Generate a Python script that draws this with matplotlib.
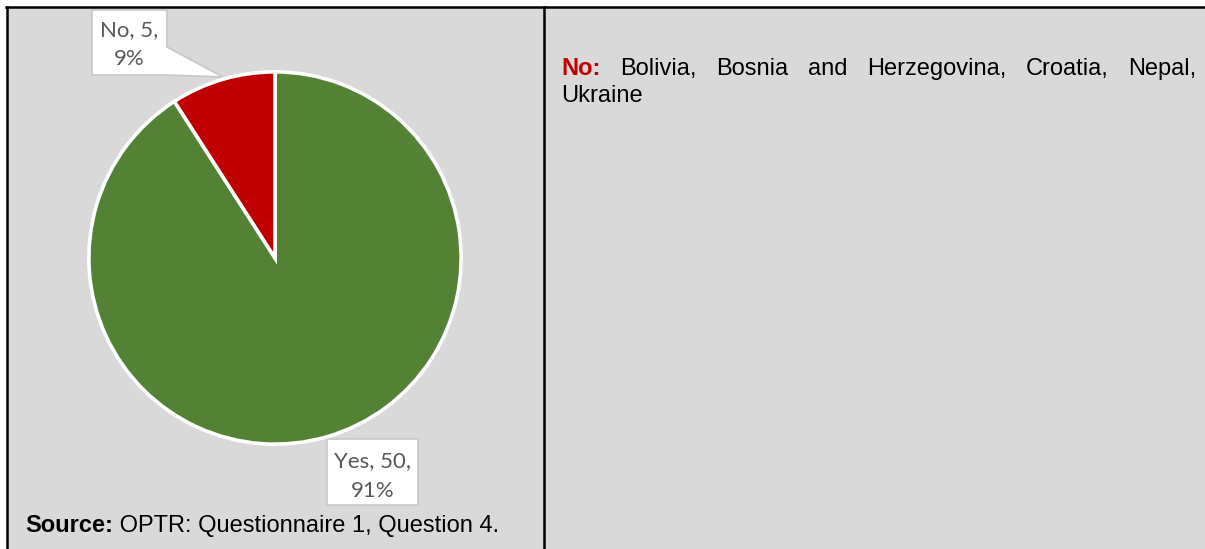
import matplotlib
matplotlib.use('Agg')
import matplotlib.pyplot as plt
from matplotlib.patches import Polygon, Rectangle

W, H = 1205, 549

categories = ["Yes", "No"]
counts = [50, 5]
colors = ["#548235", "#C00000"]

no_countries = ["Bolivia", "Bosnia and Herzegovina", "Croatia", "Nepal", "Ukraine"]
source_label = "Source:"
source_text = " OPTR: Questionnaire 1, Question 4."

GREY = "#D9D9D9"
LABEL_FONT = "Lato"
LABEL_SIZE = 16
BODY_FONT = "Liberation Sans"
BODY_SIZE = 17

fig = plt.figure(figsize=(W / 100, H / 100), dpi=100)
fig.patch.set_facecolor("white")

# full-figure overlay in pixel coordinates (y grows downward)
ov = fig.add_axes([0, 0, 1, 1])
ov.set_xlim(0, W)
ov.set_ylim(H, 0)
ov.axis("off")

ov.add_patch(Rectangle((8, 8), W - 8, H - 8, facecolor=GREY, edgecolor="none", zorder=0))
ov.plot([6, W], [7, 7], color="black", lw=1.8, zorder=5)
ov.plot([7, 7], [7, H], color="black", lw=1.8, zorder=5)
ov.plot([544, 544], [7, H], color="black", lw=1.8, zorder=5)

# pie
cx, cy, r = 275, 258, 188
pax = fig.add_axes([(cx - r) / W, (H - cy - r) / H, 2 * r / W, 2 * r / H])
wedges, _ = pax.pie(counts, colors=colors, startangle=90, counterclock=False,
                    wedgeprops=dict(edgecolor="white", linewidth=2.6))
pax.set_xlim(-1.01, 1.01)
pax.set_ylim(-1.01, 1.01)
pax.set_aspect("auto")
pax.axis("off")
for w in wedges:
    w.set_clip_on(False)

total = sum(counts)
labels = [f"{c}, {v},\n{v / total * 100:.0f}%" for c, v in zip(categories, counts)]

# data callouts
box_edge = "#C8C8C8"
no_box = [(92, 10), (167, 10), (167, 47), (223, 77), (167, 75), (92, 75)]
ov.add_patch(Polygon(no_box, closed=True, facecolor="white", edgecolor=box_edge, lw=1.2, zorder=6))
ov.text(129.5, 36, labels[1].split("\n")[0], ha="center", va="baseline",
        fontsize=LABEL_SIZE, color="#595959", family=LABEL_FONT, zorder=7)
ov.text(129.5, 65, labels[1].split("\n")[1], ha="center", va="baseline",
        fontsize=LABEL_SIZE, color="#595959", family=LABEL_FONT, zorder=7)

ov.add_patch(Rectangle((327, 439), 91, 66, facecolor="white", edgecolor=box_edge, lw=1.2, zorder=6))
ov.text(372.5, 467, labels[0].split("\n")[0], ha="center", va="baseline",
        fontsize=LABEL_SIZE, color="#595959", family=LABEL_FONT, zorder=7)
ov.text(372.5, 497, labels[0].split("\n")[1], ha="center", va="baseline",
        fontsize=LABEL_SIZE, color="#595959", family=LABEL_FONT, zorder=7)

# source line
t1 = ov.text(25, 532, source_label, ha="left", va="baseline", fontsize=BODY_SIZE,
             fontweight="bold", color="black", family=BODY_FONT, zorder=7)
fig.canvas.draw()
renderer = fig.canvas.get_renderer()
w1 = t1.get_window_extent(renderer).width
ov.text(25 + w1, 532, source_text, ha="left", va="baseline", fontsize=BODY_SIZE,
        color="black", family=BODY_FONT, zorder=7)

# justified list of countries
words = ["Bolivia,", "Bosnia", "and", "Herzegovina,", "Croatia,", "Nepal,"]
last = no_countries[-1]
x0, x1, base1, base2 = 561, 1196, 75, 102
items = [ov.text(0, base1, "No:", ha="left", va="baseline", fontsize=BODY_SIZE, fontweight="bold",
                 color="#C00000", family=BODY_FONT, zorder=7)]
for wd in words:
    items.append(ov.text(0, base1, wd, ha="left", va="baseline", fontsize=BODY_SIZE,
                         color="black", family=BODY_FONT, zorder=7))
fig.canvas.draw()
widths = [t.get_window_extent(renderer).width for t in items]
gap = (x1 - x0 - sum(widths)) / (len(items) - 1)
x = x0
for t, wd in zip(items, widths):
    t.set_x(x)
    x += wd + gap
ov.text(x0, base2, last, ha="left", va="baseline", fontsize=BODY_SIZE,
        color="black", family=BODY_FONT, zorder=7)

fig.savefig("out.png", dpi=100, facecolor="white")
